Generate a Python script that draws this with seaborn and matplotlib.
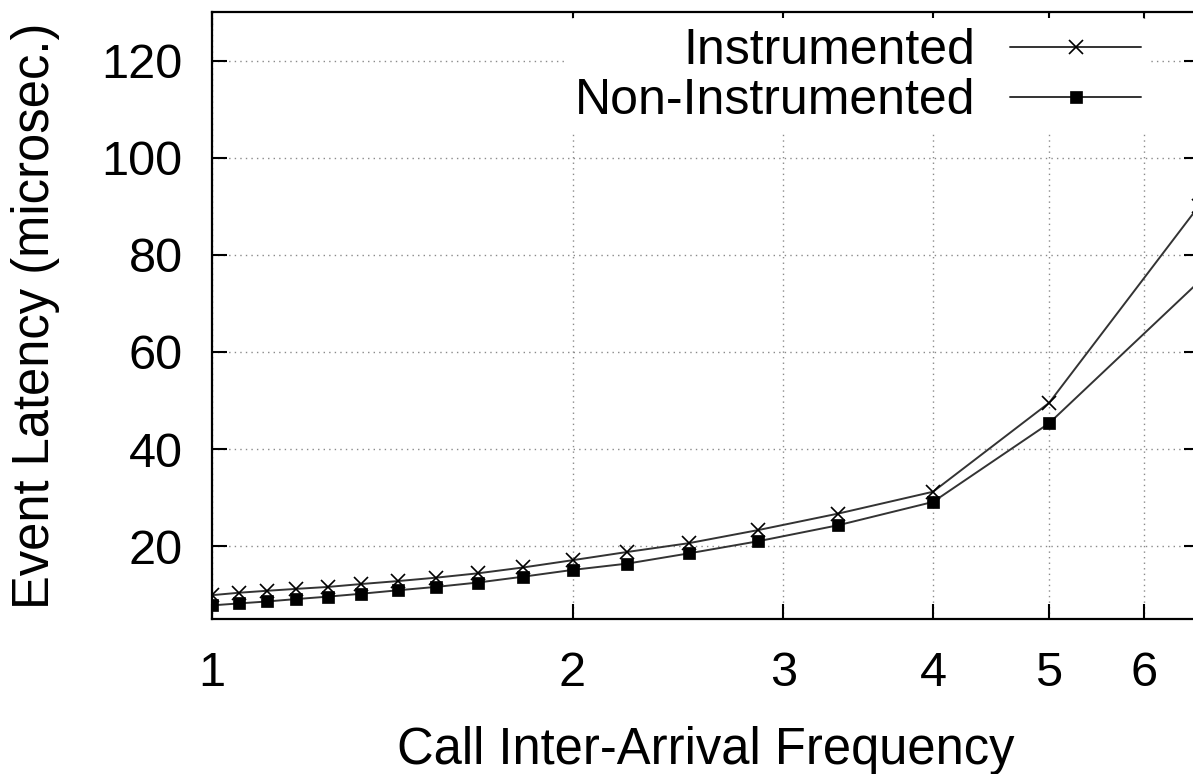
import numpy as np
import pandas as pd
import matplotlib
matplotlib.use("Agg")
import matplotlib.pyplot as plt
import seaborn as sns

# ---- data ----
frequency = [1.0, 1.053, 1.111, 1.176, 1.25, 1.333, 1.429, 1.538, 1.667, 1.818,
             2.0, 2.222, 2.5, 2.857, 3.333, 4.0, 5.0, 6.667]
instrumented = [9.9, 10.4, 10.8, 11.2, 11.6, 12.2, 12.8, 13.5, 14.4, 15.6,
                17.1, 18.8, 20.6, 23.3, 26.7, 31.2, 49.5, 90.0]
non_instrumented = [7.8, 8.2, 8.6, 9.1, 9.6, 10.2, 10.9, 11.6, 12.5, 13.7,
                    15.1, 16.4, 18.5, 21.0, 24.3, 29.1, 45.3, 74.4]
series_names = ["Instrumented", "Non-Instrumented"]
x_ticks = [1, 2, 3, 4, 5, 6]
y_ticks = [20, 40, 60, 80, 100, 120]

df_i = pd.DataFrame({"freq": frequency, "latency": instrumented})
df_n = pd.DataFrame({"freq": frequency, "latency": non_instrumented})

sns.set_theme(style="white")
plt.rcParams["font.family"] = ["Liberation Sans", "DejaVu Sans"]
plt.rcParams["text.color"] = "black"
plt.rcParams["axes.labelcolor"] = "black"

fig = plt.figure(figsize=(11.93, 7.74), dpi=100)
ax = fig.add_axes([0.1777, 0.2003, 0.8271, 0.7842])

sns.lineplot(data=df_i, x="freq", y="latency", color="#333333", linewidth=1.4,
             marker="x", markersize=10, markeredgewidth=1.2,
             markeredgecolor="black", label=series_names[0], ax=ax)
sns.lineplot(data=df_n, x="freq", y="latency", color="#333333", linewidth=1.4,
             marker="s", markersize=9, markeredgewidth=0.5,
             markerfacecolor="black", markeredgecolor="black",
             label=series_names[1], ax=ax)

ax.set_xscale("log")
ax.set_xlim(1, 6.667)
ax.set_ylim(5, 130)
ax.set_xticks(x_ticks)
ax.set_xticklabels([str(t) for t in x_ticks])
ax.xaxis.set_minor_locator(matplotlib.ticker.NullLocator())
ax.set_yticks(y_ticks)
ax.set_yticklabels([str(t) for t in y_ticks])

ax.grid(True, which="major", color="#8a8a8a", linestyle=(0, (1, 3)), linewidth=1.0)
for s in ax.spines.values():
    s.set_color("black")
    s.set_linewidth(1.6)
    s.set_visible(True)

ax.tick_params(axis="both", which="major", direction="in", length=11, width=1.5,
               colors="black", labelcolor="black", labelsize=35, pad=21,
               top=True, right=True, bottom=True, left=True)
ax.tick_params(axis="x", pad=23)

ax.set_xlabel("Call Inter-Arrival Frequency", fontsize=36.5, labelpad=22, color="black")
ax.set_ylabel("Event Latency (microsec.)", fontsize=36.5, labelpad=30, color="black")

handles, labels = ax.get_legend_handles_labels()
leg = ax.legend(handles, labels, loc="upper right", markerfirst=False,
                fontsize=36, frameon=True, facecolor="white", edgecolor="none",
                framealpha=1.0, handlelength=2.62, handletextpad=0.7,
                borderaxespad=0.3, labelspacing=0.08, borderpad=0.2,
                bbox_to_anchor=(0.967, 1.014))
leg.get_frame().set_linewidth(0)
for t in leg.get_texts():
    t.set_color("black")

fig.savefig("out.png", dpi=100)
